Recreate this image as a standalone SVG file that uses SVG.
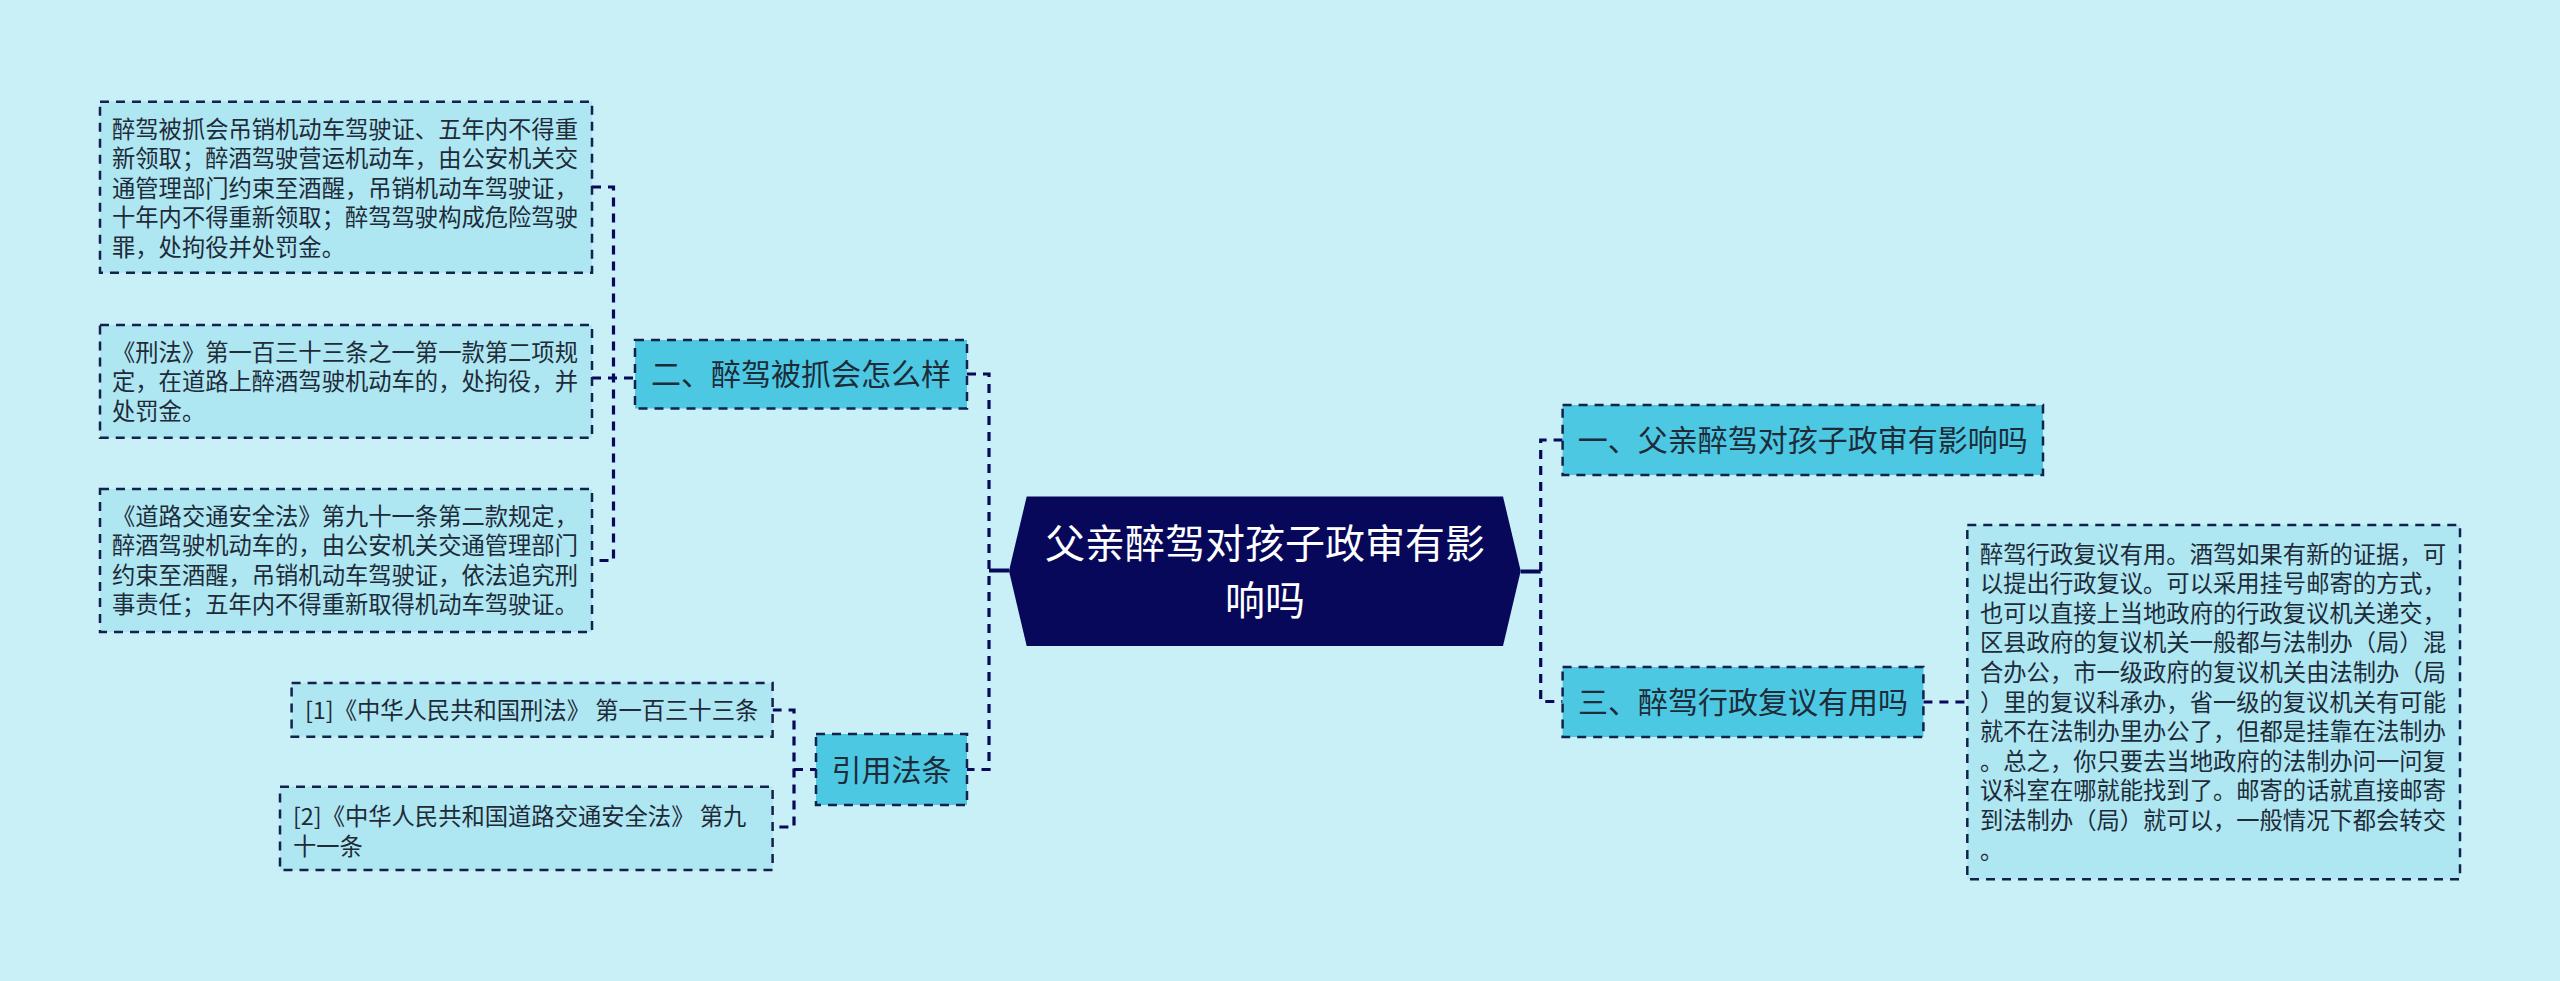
<svg xmlns="http://www.w3.org/2000/svg" width="2560" height="981" viewBox="0 0 2560 981">
<style>
.bg{fill:#c9eff7}
.leaf{fill:#aee6f2;stroke:#13214d;stroke-width:2.5;stroke-dasharray:9 7}
.main{fill:#4cc8e3;stroke:#13214d;stroke-width:2.5;stroke-dasharray:9 7}
.root{fill:#07085a}
.conn{fill:none;stroke:#07085a;stroke-width:3.2;stroke-dasharray:9 7}
.solid{fill:none;stroke:#07085a;stroke-width:4}
text{font-family:"Noto Sans CJK SC","Noto Sans",sans-serif}
.t{font-size:23.3px;fill:#1e2b38}
.m{font-size:30px;fill:#1e2b38;text-anchor:middle}
.r{font-size:40px;fill:#ffffff;text-anchor:middle}
</style>
<rect class="bg" x="0" y="0" width="2560" height="981"/>

<g id="connectors">
<path class="solid" d="M1009,570.5 H989"/>
<path class="conn" d="M967,374 H989 V769.5 H967"/>
<path class="conn" d="M592,187 H613.5 V560.5 H592"/>
<path class="conn" d="M592,378 H635"/>
<path class="conn" d="M772.6,710 H794 V827 H772.6"/>
<path class="conn" d="M794,769.5 H816"/>
<path class="solid" d="M1520.7,571.5 H1540.7"/>
<path class="conn" d="M1562.6,440 H1540.7 V701.5 H1562.6"/>
<path class="conn" d="M1923.4,702 H1967.3"/>
</g>

<g id="root">
<polygon class="root" points="1026.7,496.5 1503,496.5 1520.7,571 1503,646 1026.7,646 1009,571"/>
<text class="r" x="1265" y="558">父亲醉驾对孩子政审有影</text>
<text class="r" x="1265" y="615">响吗</text>
</g>

<g id="node-2">
<rect class="main" x="635" y="340" width="332" height="68.5"/>
<text class="m" x="801" y="385">二、醉驾被抓会怎么样</text>
</g>

<g id="node-2-1">
<rect class="leaf" x="100" y="101.7" width="492" height="171"/>
<text class="t" x="112" y="138">醉驾被抓会吊销机动车驾驶证、五年内不得重</text>
<text class="t" x="112" y="167.4">新领取；醉酒驾驶营运机动车，由公安机关交</text>
<text class="t" x="112" y="196.8">通管理部门约束至酒醒，吊销机动车驾驶证，</text>
<text class="t" x="112" y="226.2">十年内不得重新领取；醉驾驾驶构成危险驾驶</text>
<text class="t" x="112" y="255.6">罪，处拘役并处罚金。</text>
</g>

<g id="node-2-2">
<rect class="leaf" x="100" y="325" width="492" height="112.7"/>
<text class="t" x="112" y="361">《刑法》第一百三十三条之一第一款第二项规</text>
<text class="t" x="112" y="390.3">定，在道路上醉酒驾驶机动车的，处拘役，并</text>
<text class="t" x="112" y="419.6">处罚金。</text>
</g>

<g id="node-2-3">
<rect class="leaf" x="100" y="489" width="492" height="143"/>
<text class="t" x="112" y="525.1">《道路交通安全法》第九十一条第二款规定，</text>
<text class="t" x="112" y="554.4">醉酒驾驶机动车的，由公安机关交通管理部门</text>
<text class="t" x="112" y="583.8">约束至酒醒，吊销机动车驾驶证，依法追究刑</text>
<text class="t" x="112" y="613.1">事责任；五年内不得重新取得机动车驾驶证。</text>
</g>

<g id="node-law">
<rect class="main" x="816" y="734" width="151" height="71"/>
<text class="m" x="891.5" y="780.5">引用法条</text>
</g>

<g id="node-law-1">
<rect class="leaf" x="291.6" y="683" width="481" height="53.7"/>
<text class="t" x="305" y="718.6">[1]《中华人民共和国刑法》 第一百三十三条</text>
</g>

<g id="node-law-2">
<rect class="leaf" x="280" y="786.7" width="492.6" height="83.3"/>
<text class="t" x="293" y="825.3">[2]《中华人民共和国道路交通安全法》 第九</text>
<text class="t" x="293" y="855.3">十一条</text>
</g>

<g id="node-1">
<rect class="main" x="1562.6" y="405" width="480.4" height="70"/>
<text class="m" x="1802.8" y="451">一、父亲醉驾对孩子政审有影响吗</text>
</g>

<g id="node-3">
<rect class="main" x="1562.6" y="667" width="360.8" height="70"/>
<text class="m" x="1743" y="712.5">三、醉驾行政复议有用吗</text>
</g>

<g id="node-3-1">
<rect class="leaf" x="1967.3" y="525" width="492.7" height="354.3"/>
<text class="t" x="1980" y="562.6">醉驾行政复议有用。酒驾如果有新的证据，可</text>
<text class="t" x="1980" y="592.2">以提出行政复议。可以采用挂号邮寄的方式，</text>
<text class="t" x="1980" y="621.8">也可以直接上当地政府的行政复议机关递交，</text>
<text class="t" x="1980" y="651.4">区县政府的复议机关一般都与法制办（局）混</text>
<text class="t" x="1980" y="681">合办公，市一级政府的复议机关由法制办（局</text>
<text class="t" x="1980" y="710.6">）里的复议科承办，省一级的复议机关有可能</text>
<text class="t" x="1980" y="740.2">就不在法制办里办公了，但都是挂靠在法制办</text>
<text class="t" x="1980" y="769.8">。总之，你只要去当地政府的法制办问一问复</text>
<text class="t" x="1980" y="799.4">议科室在哪就能找到了。邮寄的话就直接邮寄</text>
<text class="t" x="1980" y="829">到法制办（局）就可以，一般情况下都会转交</text>
<text class="t" x="1980" y="858.6">。</text>
</g>
</svg>
